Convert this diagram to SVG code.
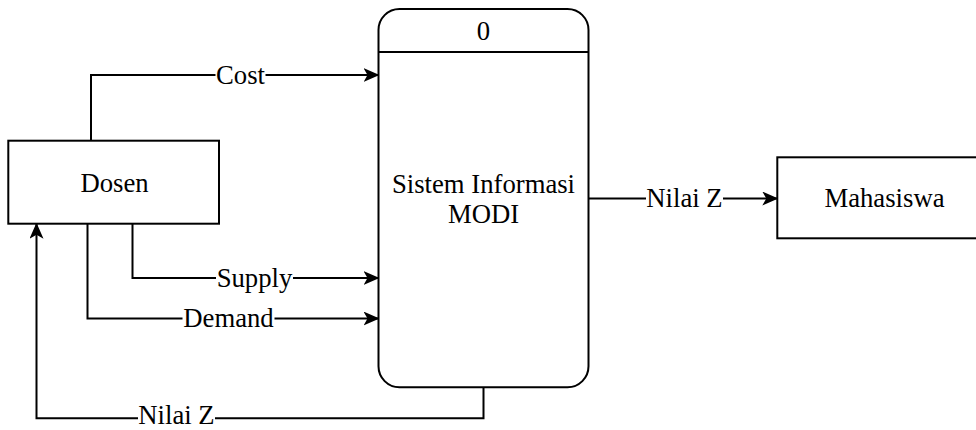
<svg xmlns="http://www.w3.org/2000/svg" width="976" height="430" viewBox="0 0 976 430">
  <defs>
    <marker id="arrow" markerUnits="userSpaceOnUse" markerWidth="17" markerHeight="15" refX="15" refY="7" orient="auto">
      <path d="M0,0 L16,7 L0,14 L4,7 Z" fill="#000"/>
    </marker>
    <style>
      .box { fill: #fff; stroke: #000; stroke-width: 2; }
      .edge { fill: none; stroke: #000; stroke-width: 2; marker-end: url(#arrow); }
      .lbg { fill: #fff; stroke: none; }
      .t { font-family: 'Liberation Serif', serif; font-size: 26.7px; fill: #000; text-anchor: middle; }
    </style>
  </defs>
  <rect width="976" height="430" fill="#fff"/>

  <g id="connectors">
    <g id="edge-cost">
      <path class="edge" d="M91,140.7 V75 H378.5"/>
      <rect class="lbg" x="215.5" y="62" width="50" height="26"/>
      <text class="t" x="240.5" y="83.5">Cost</text>
    </g>
    <g id="edge-supply">
      <path class="edge" d="M132.5,223.7 V278 H378.5"/>
      <rect class="lbg" x="216" y="265" width="77" height="26"/>
      <text class="t" x="254.5" y="286.5">Supply</text>
    </g>
    <g id="edge-demand">
      <path class="edge" d="M87.5,223.7 V318.5 H378.5"/>
      <rect class="lbg" x="182.5" y="305.5" width="92" height="26"/>
      <text class="t" x="228.5" y="327">Demand</text>
    </g>
    <g id="edge-nilai-mhs">
      <path class="edge" d="M588.5,198.5 H777.3"/>
      <rect class="lbg" x="646" y="185.5" width="77" height="26"/>
      <text class="t" x="684.5" y="207">Nilai Z</text>
    </g>
    <g id="edge-nilai-dosen">
      <path class="edge" d="M483.5,387.3 V418.3 H36.5 V223.7"/>
      <rect class="lbg" x="138" y="405.3" width="77" height="24.7"/>
      <text class="t" x="176.5" y="424.2">Nilai Z</text>
    </g>
  </g>

  <g id="node-process">
    <rect class="box" x="378.5" y="9" width="210" height="378.3" rx="21" ry="21"/>
    <line x1="378.5" y1="52" x2="588.5" y2="52" stroke="#000" stroke-width="2"/>
    <text class="t" x="483.5" y="39.5">0</text>
    <text class="t" x="483.5" y="193.3">Sistem Informasi</text>
    <text class="t" x="483.5" y="223.3">MODI</text>
  </g>

  <g id="node-dosen">
    <rect class="box" x="8.3" y="140.7" width="210.7" height="83"/>
    <text class="t" x="114.5" y="191.5">Dosen</text>
  </g>

  <g id="node-mahasiswa">
    <rect class="box" x="777.3" y="157.3" width="214" height="81"/>
    <text class="t" x="884.5" y="206.5">Mahasiswa</text>
  </g>
</svg>
